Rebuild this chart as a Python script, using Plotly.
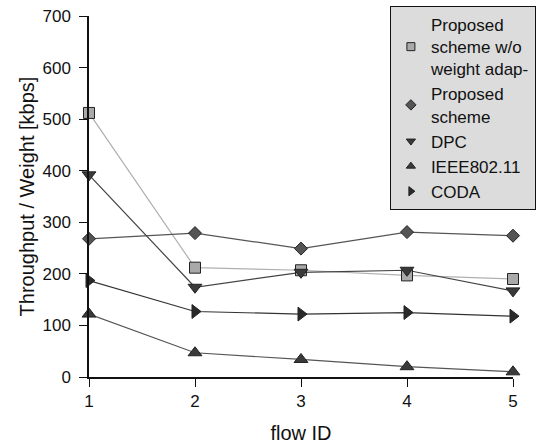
import plotly.graph_objects as go

flow_ids = [1, 2, 3, 4, 5]
names = ["Proposed<br>scheme w/o<br>weight adap-", "Proposed<br>scheme", "DPC", "IEEE802.11", "CODA"]
wo_weight = [512, 212, 207, 197, 190]
proposed = [268, 279, 249, 281, 274]
dpc = [392, 174, 203, 207, 167]
ieee = [122, 47, 34, 20, 10]
coda = [187, 127, 122, 125, 118]

series = [wo_weight, proposed, dpc, ieee, coda]
symbols = ["square", "diamond", "triangle-down", "triangle-up", "triangle-right"]
fills = ["#a9a9a9", "#555555", "#3a3a3a", "#3a3a3a", "#2a2a2a"]
line_colors = ["#b0b0b0", "#555555", "#444444", "#555555", "#333333"]
sizes = [11, 10, 12, 12, 12]

fig = go.Figure()
for ys, lc in zip(series, line_colors):
    fig.add_trace(go.Scatter(x=flow_ids, y=ys, mode="lines", showlegend=False,
                             line=dict(color=lc, width=1.2), hoverinfo="skip"))
for name, ys, sym, fc, sz in zip(names, series, symbols, fills, sizes):
    fig.add_trace(go.Scatter(x=flow_ids, y=ys, mode="markers", name=name, showlegend=False,
                             marker=dict(symbol=sym, size=sz, color=fc,
                                         line=dict(color="#222222", width=1))))
# legend entries with small icons
for name, sym, fc in zip(names, symbols, fills):
    fig.add_trace(go.Scatter(x=[None], y=[None], mode="markers", name=name,
                             marker=dict(symbol=sym, size=8, color=fc,
                                         line=dict(color="#222222", width=1))))

fig.update_layout(
    width=543, height=446,
    margin=dict(l=89, r=30, t=16, b=69, autoexpand=False),
    paper_bgcolor="white", plot_bgcolor="white",
    font=dict(family="Liberation Sans, Arial, sans-serif", color="#111111"),
    legend=dict(x=1.054, y=1.0277,
                xanchor="right", yanchor="top",
                bgcolor="#dcdcdc", bordercolor="#111111", borderwidth=1,
                font=dict(size=17, color="#111111"), itemwidth=30,
                itemsizing="trace", tracegroupgap=0),
    xaxis=dict(range=[1, 5], tickvals=flow_ids, ticks="outside", ticklen=8,
               tickwidth=1.2, tickcolor="#111111",
               showline=True, linecolor="#111111", linewidth=1.5,
               showgrid=False, zeroline=False,
               tickfont=dict(size=17), title=dict(text="flow ID", font=dict(size=20), standoff=16)),
    yaxis=dict(range=[0, 700], dtick=100, ticks="outside", ticklen=8,
               tickwidth=1.2, tickcolor="#111111", ticklabelstandoff=5,
               showline=True, linecolor="#111111", linewidth=1.5,
               showgrid=False, zeroline=False,
               tickfont=dict(size=17), title=dict(text="Throughput / Weight [kbps]", font=dict(size=20), standoff=2)),
)
fig.update_traces(cliponaxis=False)
fig.write_html("out.html")
